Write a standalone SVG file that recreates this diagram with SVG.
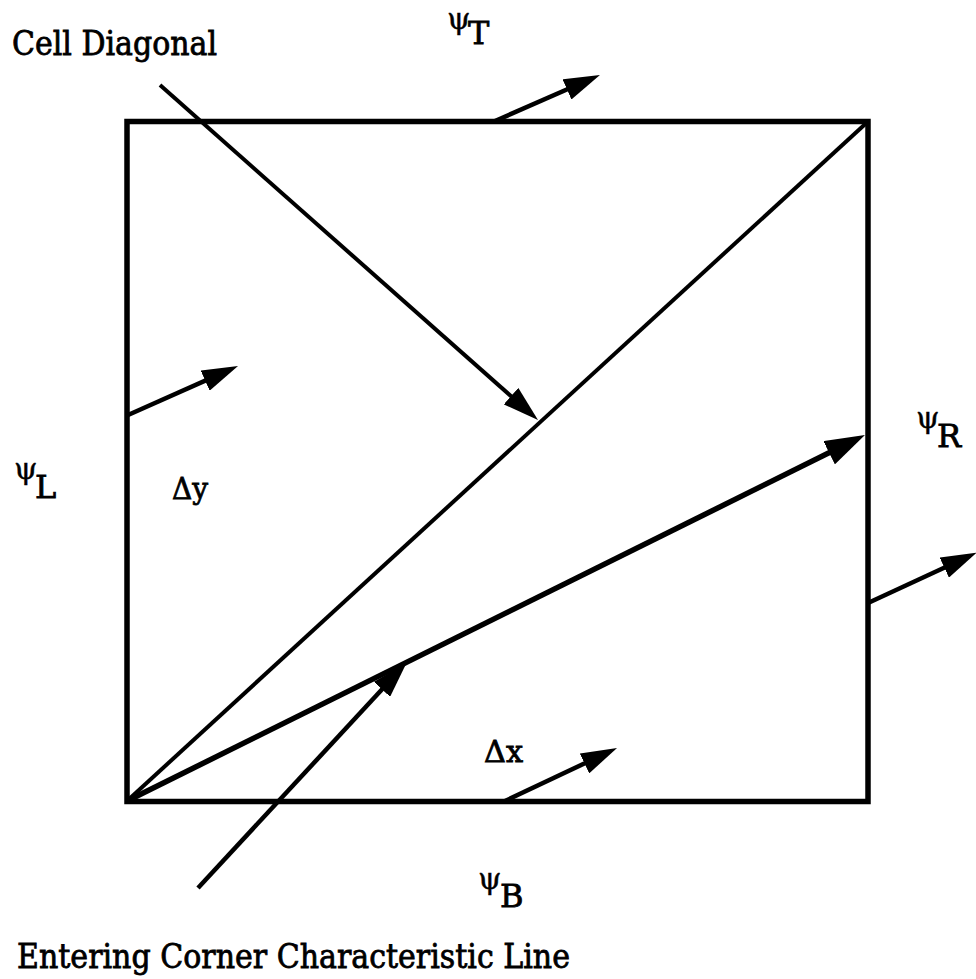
<svg xmlns="http://www.w3.org/2000/svg" width="976" height="979" viewBox="0 0 976 979">
<style>
  .lbl { font-family: "DejaVu Serif", "Liberation Serif", serif; fill: #000; stroke: #000; stroke-width: 0.8px; }
  .main { font-size: 33px; }
  .psi { font-size: 30px; stroke-width: 0.4px; }
  .sub { font-size: 32px; }
  .dl { font-size: 30px; }
  .edge { fill: none; stroke: #000; stroke-linecap: butt; }
</style>
<defs>
  <marker id="ah" markerUnits="userSpaceOnUse" markerWidth="36" markerHeight="22" refX="26" refY="11" orient="auto" viewBox="0 0 36 22">
    <path d="M0,0 L36,11 L0,22 z" fill="#000"/>
  </marker>
  <marker id="ahBig" markerUnits="userSpaceOnUse" markerWidth="40" markerHeight="26" refX="28" refY="13" orient="auto" viewBox="0 0 40 26">
    <path d="M0,0 L40,13 L0,26 z" fill="#000"/>
  </marker>
</defs>
<rect width="976" height="979" fill="#fff"/>

<g id="cell">
  <rect x="127" y="121.5" width="741" height="680" fill="none" stroke="#000" stroke-width="5.5"/>
</g>

<g id="connectors">
  <line id="cell-diagonal" class="edge" x1="127" y1="801" x2="868" y2="121.5" stroke-width="4"/>
  <line id="corner-characteristic" class="edge" x1="127" y1="801" x2="854.2" y2="440.3" stroke-width="5.5" marker-end="url(#ahBig)"/>
  <line id="diag-pointer" class="edge" x1="160" y1="85" x2="530.5" y2="413.4" stroke-width="4" marker-end="url(#ah)"/>
  <line id="entering-pointer" class="edge" x1="198" y1="888" x2="399.7" y2="670.3" stroke-width="4.5" marker-end="url(#ah)"/>
  <line id="flux-top" class="edge" x1="495" y1="121" x2="590.8" y2="79" stroke-width="4.5" marker-end="url(#ah)"/>
  <line id="flux-left" class="edge" x1="128" y1="415" x2="228.9" y2="370.1" stroke-width="4.5" marker-end="url(#ah)"/>
  <line id="flux-bottom" class="edge" x1="505" y1="801" x2="608" y2="752.3" stroke-width="4.5" marker-end="url(#ah)"/>
  <line id="flux-right" class="edge" x1="868" y1="603" x2="967.9" y2="556.7" stroke-width="4.5" marker-end="url(#ah)"/>
</g>

<g id="label-cell-diagonal">
  <text class="lbl main" x="12" y="55" textLength="205" lengthAdjust="spacingAndGlyphs">Cell Diagonal</text>
</g>
<g id="label-entering">
  <text class="lbl main" x="17" y="968" textLength="553" lengthAdjust="spacingAndGlyphs">Entering Corner Characteristic Line</text>
</g>
<g id="label-psi-T">
  <text class="lbl psi" x="447" y="29">ψ</text>
  <text class="lbl sub" x="468" y="44">T</text>
</g>
<g id="label-psi-L">
  <text class="lbl psi" x="14" y="479">ψ</text>
  <text class="lbl sub" x="35" y="498">L</text>
</g>
<g id="label-psi-R">
  <text class="lbl psi" x="916" y="428">ψ</text>
  <text class="lbl sub" x="937" y="447">R</text>
</g>
<g id="label-psi-B">
  <text class="lbl psi" x="478" y="889">ψ</text>
  <text class="lbl sub" x="500" y="907">B</text>
</g>
<g id="label-dy">
  <text class="lbl dl" x="172" y="499" textLength="36" lengthAdjust="spacingAndGlyphs">Δy</text>
</g>
<g id="label-dx">
  <text class="lbl dl" x="484" y="762" textLength="39" lengthAdjust="spacingAndGlyphs">Δx</text>
</g>
</svg>
